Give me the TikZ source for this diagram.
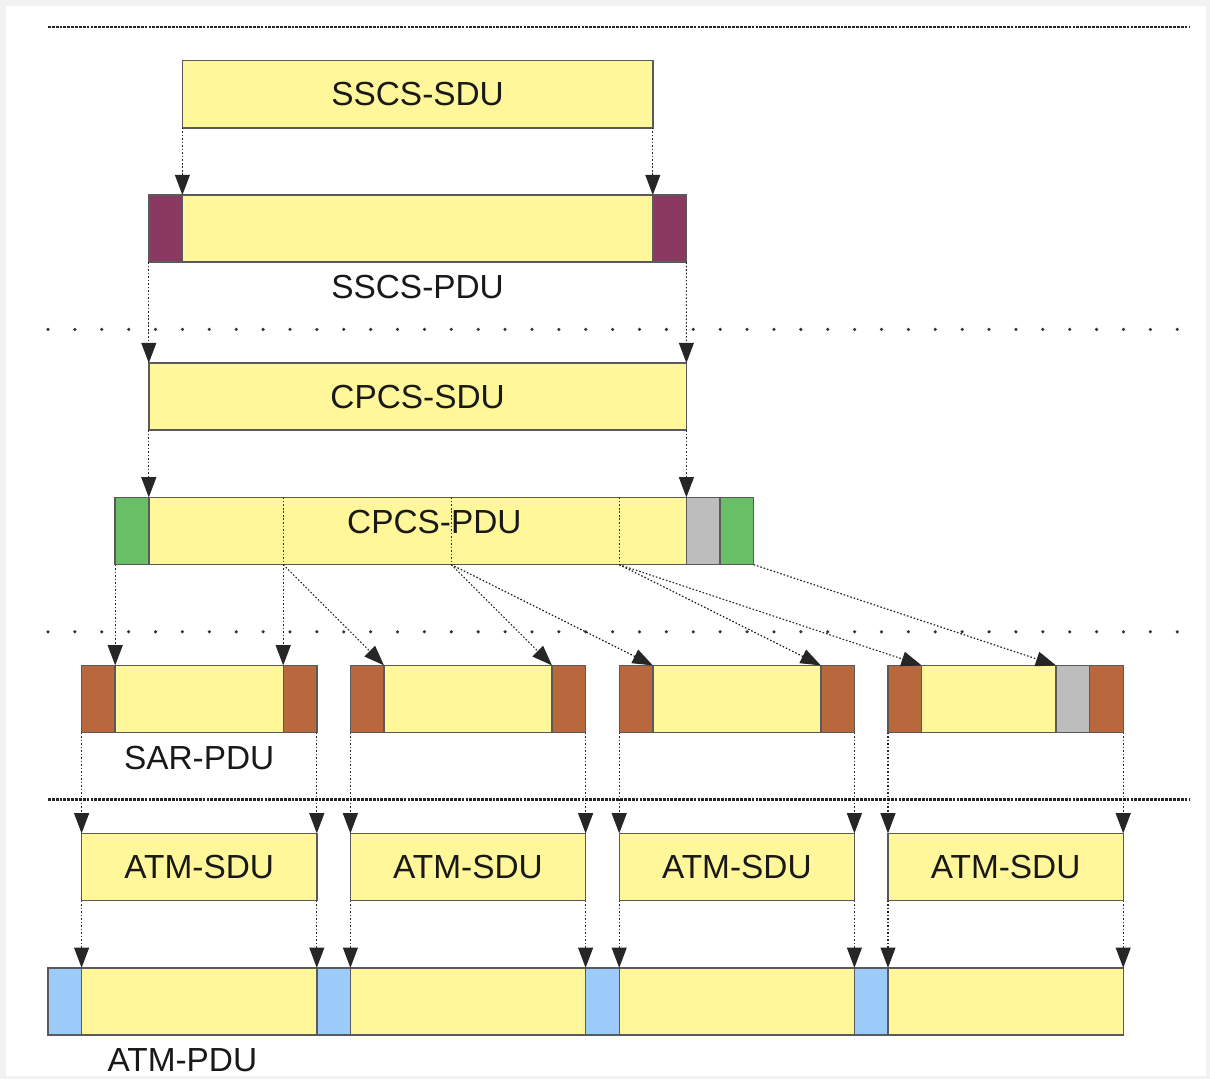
\documentclass[tikz,border=0pt]{standalone}
\usepackage{fontspec}
\setmainfont{Liberation Sans}
\usepackage{tikz}
\usetikzlibrary{arrows.meta}
\definecolor{pduYellow}{HTML}{FFF799}
\definecolor{sscsMaroon}{HTML}{8A3A60}
\definecolor{cpcsGreen}{HTML}{68BF66}
\definecolor{padGray}{HTML}{BDBDBD}
\definecolor{sarBrown}{HTML}{B8683C}
\definecolor{atmBlue}{HTML}{9DCBF9}
\definecolor{edgeGray}{HTML}{5A5A5A}
\definecolor{frameGray}{HTML}{F2F2F2}
\tikzset{
  >={Triangle[length=11.5pt,width=8.5pt]},
  x=0.672cm, y=-0.672cm,
  field/.style={rectangle,draw=edgeGray,line width=0.8pt,outer sep=0pt,inner sep=0pt,anchor=north west,minimum height=1.344cm,minimum width=0.672cm,font=\fontsize{19}{22}\selectfont,text=black!90},
  cols/.style={minimum width=#1*0.672cm},
  payload/.style={field,fill=pduYellow},
  sscscell/.style={field,fill=sscsMaroon},
  cpcscell/.style={field,fill=cpcsGreen},
  padcell/.style={field,fill=padGray},
  sarcell/.style={field,fill=sarBrown},
  atmcell/.style={field,fill=atmBlue},
  pdulabel/.style={font=\fontsize{19}{22}\selectfont,text=black!90,inner sep=0pt},
  mapline/.style={->,draw=black!85,line width=0.65pt,dash pattern=on 0.9pt off 1.1pt},
  cutline/.style={draw=black!80,line width=0.65pt,dash pattern=on 0.9pt off 1.1pt},
  layerdense/.style={draw=black!85,line width=1.6pt,dash pattern=on 1.6pt off 0.6pt},
  layersparse/.style={draw=black!80,line width=2pt,line cap=round,dash pattern=on 0pt off 15.3pt},
}
\begin{document}
\begin{tikzpicture}
  \fill[frameGray] (-1.4286,-0.8036) rectangle (34.583,31.31);
  \fill[white] (-1.25,-0.625) rectangle (34.46,31.22);
  \useasboundingbox (-1.4286,-0.8036) rectangle (34.583,31.31);
  \draw[layerdense] (0,0) -- (34,0);
  \draw[layersparse] (0,9) -- (34,9);
  \draw[layersparse] (0,18) -- (34,18);
  \draw[layerdense] (0,23) -- (34,23);
  \node[payload,cols=14] (sscsSdu) at (4,1) {SSCS-SDU};
  \node[sscscell] (sscsHdr) at (3,5) {};
  \node[payload,cols=14] (sscsPay) at (4,5) {};
  \node[sscscell] (sscsTrl) at (18,5) {};
  \node[pdulabel] (sscsPduLbl) at (11,7.74) {SSCS-PDU};
  \node[payload,cols=16] (cpcsSdu) at (3,10) {CPCS-SDU};
  \node[cpcscell] (cpcsHdr) at (2,14) {};
  \node[payload,cols=16] (cpcsPay) at (3,14) {};
  \node[padcell] (cpcsPad) at (19,14) {};
  \node[cpcscell] (cpcsTrl) at (20,14) {};
  \coordinate (cut1top) at (7,14);
  \coordinate (cut1) at (7,16);
  \coordinate (cut2top) at (12,14);
  \coordinate (cut2) at (12,16);
  \coordinate (cut3top) at (17,14);
  \coordinate (cut3) at (17,16);
  \draw[cutline] (cut1top) -- (cut1);
  \draw[cutline] (cut2top) -- (cut2);
  \draw[cutline] (cut3top) -- (cut3);
  \node[pdulabel] (cpcsPduLbl) at (11.5,14.73) {CPCS-PDU};
  \node[sarcell] (sar1Hdr) at (1,19) {};
  \node[payload,cols=5] (sar1Pay) at (2,19) {};
  \node[sarcell] (sar1Trl) at (7,19) {};
  \node[sarcell] (sar2Hdr) at (9,19) {};
  \node[payload,cols=5] (sar2Pay) at (10,19) {};
  \node[sarcell] (sar2Trl) at (15,19) {};
  \node[sarcell] (sar3Hdr) at (17,19) {};
  \node[payload,cols=5] (sar3Pay) at (18,19) {};
  \node[sarcell] (sar3Trl) at (23,19) {};
  \node[sarcell] (sar4Hdr) at (25,19) {};
  \node[payload,cols=4] (sar4Pay) at (26,19) {};
  \node[padcell] (sar4Pad) at (30,19) {};
  \node[sarcell] (sar4Trl) at (31,19) {};
  \node[pdulabel] (sarPduLbl) at (4.5,21.75) {SAR-PDU};
  \node[payload,cols=7] (atmSdu1) at (1,24) {ATM-SDU};
  \node[payload,cols=7] (atmSdu2) at (9,24) {ATM-SDU};
  \node[payload,cols=7] (atmSdu3) at (17,24) {ATM-SDU};
  \node[payload,cols=7] (atmSdu4) at (25,24) {ATM-SDU};
  \node[atmcell] (atmHdr1) at (0,28) {};
  \node[payload,cols=7] (atmPay1) at (1,28) {};
  \node[atmcell] (atmHdr2) at (8,28) {};
  \node[payload,cols=7] (atmPay2) at (9,28) {};
  \node[atmcell] (atmHdr3) at (16,28) {};
  \node[payload,cols=7] (atmPay3) at (17,28) {};
  \node[atmcell] (atmHdr4) at (24,28) {};
  \node[payload,cols=7] (atmPay4) at (25,28) {};
  \node[pdulabel] (atmPduLbl) at (4,30.75) {ATM-PDU};
  \draw[mapline] (sscsSdu.south west) -- (sscsPay.north west);
  \draw[mapline] (sscsSdu.south east) -- (sscsPay.north east);
  \draw[mapline] (sscsHdr.south west) -- (cpcsSdu.north west);
  \draw[mapline] (sscsTrl.south east) -- (cpcsSdu.north east);
  \draw[mapline] (cpcsSdu.south west) -- (cpcsPay.north west);
  \draw[mapline] (cpcsSdu.south east) -- (cpcsPay.north east);
  \draw[mapline] (cpcsHdr.south west) -- (sar1Pay.north west);
  \draw[mapline] (cut1) -- (sar1Trl.north west);
  \draw[mapline] (cut1) -- (sar2Pay.north west);
  \draw[mapline] (cut2) -- (sar2Trl.north west);
  \draw[mapline] (cut2) -- (sar3Pay.north west);
  \draw[mapline] (cut3) -- (sar3Trl.north west);
  \draw[mapline] (cut3) -- (sar4Pay.north west);
  \draw[mapline] (cpcsTrl.south east) -- (sar4Pad.north west);
  \draw[mapline] (sar1Hdr.south west) -- (atmSdu1.north west);
  \draw[mapline] (sar1Trl.south east) -- (atmSdu1.north east);
  \draw[mapline] (sar2Hdr.south west) -- (atmSdu2.north west);
  \draw[mapline] (sar2Trl.south east) -- (atmSdu2.north east);
  \draw[mapline] (sar3Hdr.south west) -- (atmSdu3.north west);
  \draw[mapline] (sar3Trl.south east) -- (atmSdu3.north east);
  \draw[mapline] (sar4Hdr.south west) -- (atmSdu4.north west);
  \draw[mapline] (sar4Trl.south east) -- (atmSdu4.north east);
  \draw[mapline] (atmSdu1.south west) -- (atmPay1.north west);
  \draw[mapline] (atmSdu1.south east) -- (atmPay1.north east);
  \draw[mapline] (atmSdu2.south west) -- (atmPay2.north west);
  \draw[mapline] (atmSdu2.south east) -- (atmPay2.north east);
  \draw[mapline] (atmSdu3.south west) -- (atmPay3.north west);
  \draw[mapline] (atmSdu3.south east) -- (atmPay3.north east);
  \draw[mapline] (atmSdu4.south west) -- (atmPay4.north west);
  \draw[mapline] (atmSdu4.south east) -- (atmPay4.north east);
\end{tikzpicture}
\end{document}
